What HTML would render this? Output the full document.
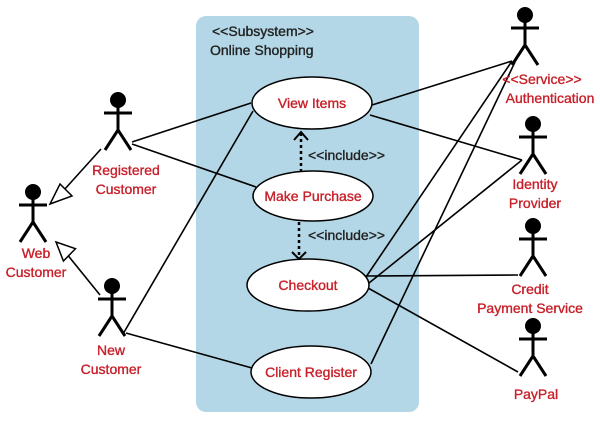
<!DOCTYPE html>
<html><head><meta charset="utf-8"><style>
html,body{margin:0;padding:0;background:#fff;}
svg{display:block;}
text{font-family:"Liberation Sans",sans-serif;font-size:14px;stroke-width:0.35px;}
.r{fill:#c8202a;stroke:#c8202a;}
.k{fill:#222;stroke:#222;}
</style></head><body>
<svg width="600" height="428" viewBox="0 0 600 428">
<rect x="196" y="16" width="223" height="396" rx="10" fill="#b3d7e6"/>
<text class="k" x="212" y="36">&lt;&lt;Subsystem&gt;&gt;</text>
<text class="k" x="210" y="55">Online Shopping</text>
<g stroke="#000" stroke-width="1.6" fill="none">
<line x1="132" y1="142" x2="251" y2="103"/>
<line x1="132" y1="144" x2="256" y2="187"/>
<line x1="123" y1="334" x2="253" y2="111"/>
<line x1="126" y1="333" x2="252" y2="368"/>
<line x1="101" y1="149" x2="64" y2="190"/>
<line x1="100" y1="295" x2="66" y2="253"/>
<line x1="372" y1="105" x2="512" y2="61"/>
<line x1="370" y1="115" x2="522" y2="160"/>
<line x1="366" y1="277" x2="512" y2="61"/>
<line x1="369" y1="283" x2="522" y2="160"/>
<line x1="366" y1="276" x2="518" y2="275"/>
<line x1="368" y1="288" x2="518" y2="372"/>
<line x1="371" y1="364" x2="515" y2="62"/>
</g>
<polygon points="50,204 72,196 60,184" fill="#fff" stroke="#000" stroke-width="1.5"/>
<polygon points="56,242 74,252 60,262" fill="#fff" stroke="#000" stroke-width="1.5" transform="rotate(-10 56 242)"/>
<g stroke="#000" stroke-width="2.5" fill="none">
<line x1="301" y1="172" x2="301" y2="133" stroke-dasharray="3,3"/>
<polyline points="294,140 301,132 308,140" stroke-width="2"/>
<line x1="299" y1="222" x2="299" y2="257" stroke-dasharray="3,3"/>
<polyline points="292,252 299,259 306,252" stroke-width="2"/>
</g>
<text class="k" x="308" y="160">&lt;&lt;include&gt;&gt;</text>
<text class="k" x="308" y="240">&lt;&lt;include&gt;&gt;</text>
<g fill="#fff" stroke="#000" stroke-width="1.5">
<ellipse cx="312" cy="103" rx="60" ry="26"/>
<ellipse cx="313" cy="196" rx="60" ry="25"/>
<ellipse cx="308" cy="285" rx="61" ry="26"/>
<ellipse cx="311" cy="372" rx="60" ry="26"/>
</g>
<g class="r" text-anchor="middle">
<text x="312" y="108">View Items</text>
<text x="313" y="201">Make Purchase</text>
<text x="308" y="290">Checkout</text>
<text x="311" y="377">Client Register</text>
</g>
<defs>
<g id="a" stroke="#000" stroke-width="3" fill="none">
<circle cx="0" cy="0" r="8" fill="#000" stroke="none"/>
<line x1="0" y1="6" x2="0" y2="32"/>
<line x1="-14" y1="13" x2="14" y2="13"/>
<line x1="0" y1="30" x2="-13" y2="50"/>
<line x1="0" y1="30" x2="13" y2="50"/>
</g>
</defs>
<use href="#a" x="118" y="100"/>
<use href="#a" x="33" y="192"/>
<use href="#a" x="112" y="286"/>
<use href="#a" x="525" y="15"/>
<use href="#a" x="533" y="124"/>
<use href="#a" x="533" y="226"/>
<use href="#a" x="533" y="326"/>
<g class="r" text-anchor="middle">
<text x="126" y="175">Registered</text>
<text x="126" y="194">Customer</text>
<text x="36" y="258">Web</text>
<text x="36" y="277">Customer</text>
<text x="111" y="355">New</text>
<text x="111" y="374">Customer</text>
<text x="542" y="84">&lt;&lt;Service&gt;&gt;</text>
<text x="550" y="103">Authentication</text>
<text x="535" y="189">Identity</text>
<text x="535" y="208">Provider</text>
<text x="530" y="294">Credit</text>
<text x="530" y="313">Payment Service</text>
<text x="536" y="399">PayPal</text>
</g>
</svg>
</body></html>
